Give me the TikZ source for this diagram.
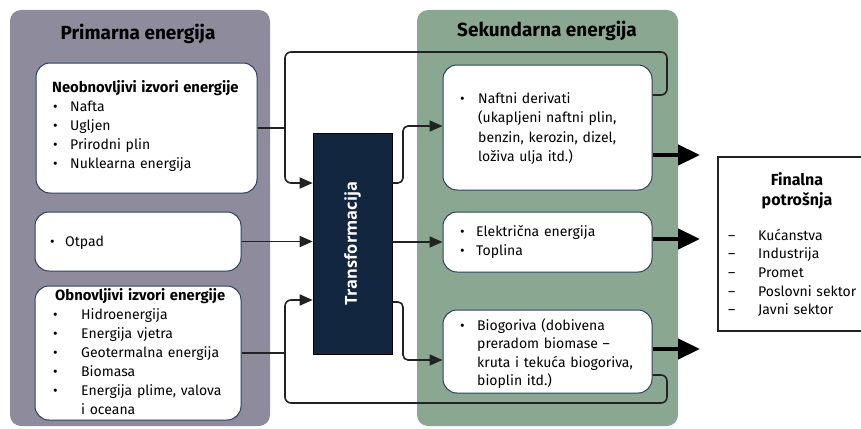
\documentclass[tikz,border=0pt]{standalone}
\usepackage{fontspec}
\setmainfont{Fira Sans}
\newfontfamily\transfont{Open Sans}
\usetikzlibrary{arrows.meta}
\definecolor{panelgray}{HTML}{8D8B9C}
\definecolor{panelgreen}{HTML}{89A791}
\definecolor{navy}{HTML}{12263F}
\definecolor{boxline}{HTML}{2E3F5E}
\definecolor{linec}{HTML}{222222}
\newcommand{\bul}[1]{\makebox[#1][l]{•}}
\newcommand{\dsh}[1]{\makebox[#1][l]{–}}
\begin{document}
\begin{tikzpicture}[x=1pt,y=-1pt,
  panel/.style={rounded corners=11pt, draw=none},
  whitebox/.style={draw=boxline, line width=1pt, fill=white, rounded corners=14pt, inner sep=0pt},
  txt/.style={anchor=base west, inner sep=0pt, align=left, text width=#1},
  body/.style={font=\fontsize{14}{19}\selectfont},
  ptitle/.style={anchor=base, inner sep=0pt, font=\bfseries\fontsize{19}{22}\selectfont},
  conn/.style={draw=linec, line width=1.6pt, rounded corners=6pt},
  arr/.style={conn, -{Triangle[length=13pt,width=11pt]}},
  bigarr/.style={draw=black, line width=4.5pt, -{Triangle[length=22pt,width=20pt]}}
]
\path[use as bounding box, clip] (0,0) rectangle (861,428);

% panels
\node[panel, fill=panelgray, minimum width=260pt, minimum height=416pt, inner sep=0pt] (pgray) at (140,218) {};
\node[panel, fill=panelgreen, minimum width=261pt, minimum height=416pt, inner sep=0pt] (pgreen) at (547.5,218) {};
\node[ptitle] (tprim) at (138,40) {Primarna energija};
\node[ptitle] (tsek) at (547,37) {Sekundarna energija};

% left boxes
\node[whitebox, minimum width=221pt, minimum height=130pt] (b1) at (146.5,128) {};
\node[whitebox, minimum width=206pt, minimum height=59pt] (b2) at (138,241.5) {};
\node[whitebox, minimum width=206pt, minimum height=134pt] (b3) at (138,353) {};

\node[txt=210pt, body] (t1) at (52,92) {{\bfseries\fontsize{14.8}{19}\selectfont Neobnovljivi izvori energije}\\
\hspace*{1pt}\bul{17pt}Nafta\\
\hspace*{1pt}\bul{17pt}Ugljen\\
\hspace*{1pt}\bul{17pt}Prirodni plin\\
\hspace*{1pt}\bul{17pt}Nuklearna energija};
\node[txt=180pt, body] (t2) at (50,246) {\bul{15pt}Otpad};
\node[txt=200pt, body] (t3) at (53,300) {\hspace*{2pt}{\bfseries\fontsize{14.8}{19}\selectfont Obnovljivi izvori energije}\\
\bul{28pt}Hidroenergija\\
\bul{28pt}Energija vjetra\\
\bul{28pt}Geotermalna energija\\
\bul{28pt}Biomasa\\
\bul{28pt}Energija plime, valova\\
\hspace*{28pt}i oceana};

% transformation
\node[fill=navy, draw=black, line width=0.6pt, minimum width=79pt, minimum height=221pt, inner sep=0pt] (trans) at (352.5,243.5) {};
\node[rotate=90, text=white, font=\transfont\bfseries\fontsize{16.5}{17}\selectfont, inner sep=0pt] (ttrans) at (trans.center) {Transformacija};

% right boxes
\node[whitebox, minimum width=209pt, minimum height=125pt] (bA) at (547.5,127.5) {};
\node[whitebox, minimum width=209pt, minimum height=60pt] (bB) at (547.5,242) {};
\node[whitebox, minimum width=209pt, minimum height=83pt] (bC) at (547.5,351.5) {};

\node[txt=200pt, font=\fontsize{14}{19.6}\selectfont] (tA) at (460,103) {\bul{18pt}Naftni derivati\\
\hspace*{18pt}(ukapljeni naftni plin,\\
\hspace*{18pt}benzin, kerozin, dizel,\\
\hspace*{18pt}loživa ulja itd.)};
\node[txt=200pt, body] (tB) at (460,236) {\bul{16pt}Električna energija\\
\bul{16pt}Toplina};
\node[txt=200pt, font=\fontsize{14}{18.5}\selectfont] (tC) at (460,330) {\bul{17pt}Biogoriva (dobivena\\
\hspace*{17pt}preradom biomase –\\
\hspace*{17pt}kruta i tekuća biogoriva,\\
\hspace*{17pt}bioplin itd.)};

% final
\node[draw=linec, line width=1.2pt, fill=white, minimum width=152pt, minimum height=174pt, inner sep=0pt] (fin) at (794,244) {};
\node[anchor=base, inner sep=0pt, align=center, text width=110pt, font=\bfseries\fontsize{16}{20}\selectfont] (tfin) at (797,185) {Finalna\\potrošnja};
\node[txt=140pt, font=\fontsize{14}{18.7}\selectfont] (tfinl) at (728,240) {\dsh{30pt}Kućanstva\\
\dsh{30pt}Industrija\\
\dsh{30pt}Promet\\
\dsh{30pt}Poslovni sektor\\
\dsh{30pt}Javni sektor};

% connectors left
\coordinate (j1) at (285,128);
\coordinate (j3) at (285,353);
\draw[conn] (b1.east) -- (j1);
\draw[conn] (j1) |- (667,52) |- (bA.east |- 0,95);
\draw[arr] (j1) |- (trans.west |- 0,183);
\draw[arr] (b2.east) -- (trans.west |- b2.east);
\draw[conn] (b3.east) -- (j3);
\draw[arr] (j3) |- (trans.west |- 0,300);
\draw[conn] (j3) |- (667,403) |- (bC.east |- 0,375);

% connectors right of transformation
\draw[arr, rounded corners=5pt] (trans.east |- 0,183) -- (403,183) |- (bA.west |- 0,126);
\draw[arr] (trans.east |- bB.west) -- (bB.west);
\draw[arr, rounded corners=5pt] (trans.east |- 0,302) -- (403,302) |- (bC.west |- 0,360);

% thick arrows
\coordinate (eA) at (700,155);
\coordinate (eB) at (700,239);
\coordinate (eC) at (700,349);
\draw[bigarr] (bA.east |- eA) -- (eA);
\draw[bigarr] (bB.east |- eB) -- (eB);
\draw[bigarr] (bC.east |- eC) -- (eC);
\end{tikzpicture}
\end{document}
